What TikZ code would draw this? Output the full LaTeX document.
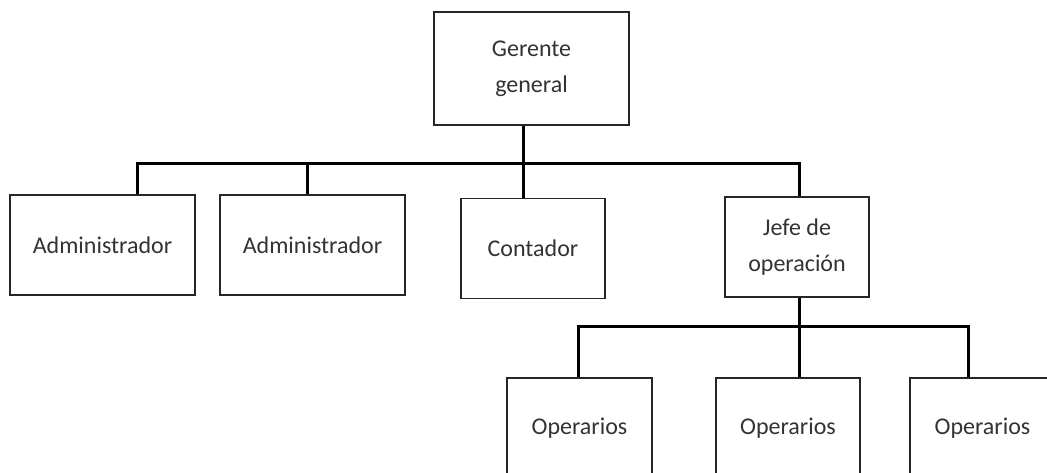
\documentclass[tikz,border=0pt]{standalone}
\usepackage{fontspec}
\setmainfont{Carlito}
\usetikzlibrary{positioning}

\begin{document}
\begin{tikzpicture}[x = 1pt, y = -1pt,
                    box/.style  = {rectangle,
                                   draw,
                                   black!85,
                                   line width = 1.5pt,
                                   text = black!80,
                                   align = center,
                                   font = \fontsize{24pt}{36pt}\selectfont,
                                   minimum height = 100pt},
                    link/.style = {black,
                                   line width = 3pt,
                                   line join = miter}]

\useasboundingbox (0,0) rectangle (1047,472);
\clip (0,0) rectangle (1047,472);

\node[box, minimum width = 195pt, minimum height = 113pt] (G) at (531.5, 68.5) {Gerente\\general};

\node[box, minimum width = 185pt] (A1) at (102.5, 245) {Administrador};
\node[box, minimum width = 185pt] (A2) at (312.5, 245) {Administrador};
\node[box, minimum width = 144pt] (C)  at (533, 248.5) {Contador};
\node[box, minimum width = 144pt] (J)  at (797, 247)   {Jefe de\\operación};

\node[box, minimum width = 145pt] (O1) at (579.5, 428) {Operarios};
\node[box, minimum width = 144pt] (O2) at (788, 428)   {Operarios};
\node[box, minimum width = 145pt] (O3) at (982.5, 428) {Operarios};

% upper bus
\coordinate (busL) at (137, 163);
\coordinate (busM) at (523, 163);
\coordinate (busR) at (799, 163);
\coordinate (busA) at (307, 163);

\draw[link] (busL |- A1.north) -- (busL) -- (busR) -- (busR |- J.north);
\draw[link] (busM |- G.south) -- (busM |- C.north);
\draw[link] (busA) -- (busA |- A2.north);

% lower bus
\coordinate (opL) at (578, 326);
\coordinate (opR) at (968, 326);

\draw[link] (opL |- O1.north) -- (opL) -- (opR) -- (opR |- O3.north);
\draw[link] (busR |- J.south) -- (busR |- O2.north);

\end{tikzpicture}
\end{document}
